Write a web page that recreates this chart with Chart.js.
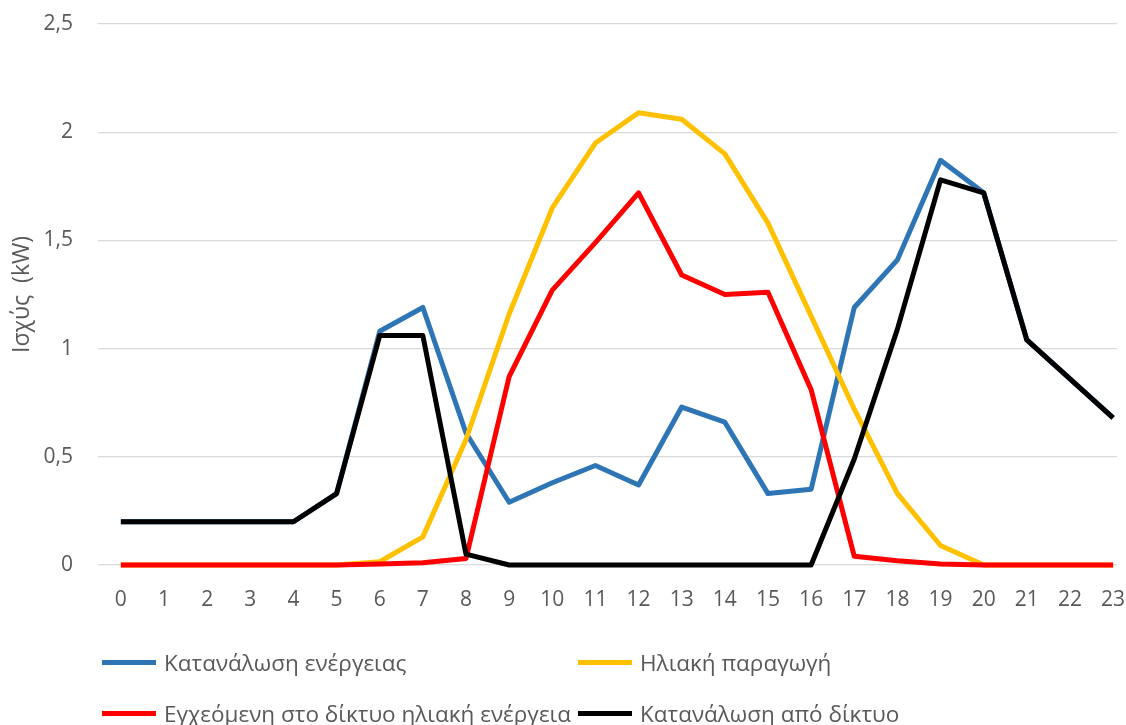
<!DOCTYPE html>
<html>
<head>
<meta charset="utf-8">
<script src="https://cdn.jsdelivr.net/npm/chart.js@4.4.1/dist/chart.umd.min.js"></script>
<style>
  html, body { margin: 0; padding: 0; background: #ffffff; }
  #wrap { position: relative; width: 1126px; height: 725px; }
  #legend { position: absolute; left: 0; top: 0; width: 1126px; height: 725px; pointer-events: none;
            font-family: "Open Sans", "Noto Sans", sans-serif; font-size: 22.5px; color: #595959; }
  .li { position: absolute; display: flex; align-items: center; white-space: nowrap; }
  .sw { width: 54px; height: 5px; margin-right: 8px; }
</style>
</head>
<body>
<div id="wrap">
  <canvas id="c" width="1126" height="725"></canvas>
  <div id="legend"></div>
</div>
<script>
const hours = [0,1,2,3,4,5,6,7,8,9,10,11,12,13,14,15,16,17,18,19,20,21,22,23];
const yTicks = [0, 0.5, 1, 1.5, 2, 2.5];

const seriesNames = [
  "Κατανάλωση ενέργειας",
  "Ηλιακή παραγωγή",
  "Εγχεόμενη στο δίκτυο ηλιακή ενέργεια",
  "Κατανάλωση από δίκτυο"
];
const consumption = [0.20,0.20,0.20,0.20,0.20,0.33,1.08,1.19,0.61,0.29,0.38,0.46,0.37,0.73,0.66,0.33,0.35,1.19,1.41,1.87,1.72,1.04,0.86,0.68];
const solar       = [0,0,0,0,0,0,0.015,0.13,0.58,1.16,1.65,1.95,2.09,2.06,1.90,1.58,1.15,0.72,0.33,0.09,0,0,0,0];
const injected    = [0,0,0,0,0,0,0.005,0.01,0.03,0.87,1.27,1.49,1.72,1.34,1.25,1.26,0.81,0.04,0.02,0.005,0,0,0,0];
const fromGrid    = [0.20,0.20,0.20,0.20,0.20,0.33,1.06,1.06,0.05,0,0,0,0,0,0,0,0,0.49,1.09,1.78,1.72,1.04,0.86,0.68];

const colors = ["#2E75B6", "#FFC000", "#FF0000", "#000000"];
const values = [consumption, solar, injected, fromGrid];
const drawOrder = [4, 3, 2, 1];

const textColor = "#595959";
const fontFamily = '"Open Sans", "Noto Sans", sans-serif';

const datasets = values.map((vals, i) => ({
  label: seriesNames[i],
  data: hours.map((h, k) => ({ x: h, y: vals[k] })),
  borderColor: colors[i],
  backgroundColor: colors[i],
  borderWidth: 5,
  pointRadius: 0,
  pointHoverRadius: 0,
  tension: 0,
  borderJoinStyle: "round",
  borderCapStyle: "butt",
  fill: false,
  clip: false,
  order: drawOrder[i]
}));

new Chart(document.getElementById("c"), {
  type: "line",
  data: { datasets },
  options: {
    responsive: false,
    animation: false,
    layout: { padding: { top: 24, right: 9, bottom: 114, left: 0 } },
    plugins: { legend: { display: false }, tooltip: { enabled: false } },
    scales: {
      x: {
        type: "linear",
        min: -0.53,
        max: 23.09,
        afterBuildTicks: (s) => { s.ticks = hours.map(h => ({ value: h })); },
        afterFit: (s) => { s.height = 46; s.paddingLeft = 0; s.paddingRight = 0; },
        grid: { display: false, drawTicks: false },
        border: { display: false },
        ticks: {
          autoSkip: false,
          maxRotation: 0,
          padding: 22,
          color: textColor,
          font: { family: fontFamily, size: 21 },
          callback: (v) => String(v)
        }
      },
      y: {
        min: 0,
        max: 2.5,
        afterBuildTicks: (s) => { s.ticks = yTicks.map(v => ({ value: v })); },
        afterFit: (s) => { s.width = 98; s.paddingTop = 0; s.paddingBottom = 0; },
        grid: { color: "#D9D9D9", lineWidth: 1.3, drawTicks: false },
        border: { display: false },
        ticks: {
          padding: 25,
          color: textColor,
          font: { family: fontFamily, size: 21 },
          callback: (v) => String(v).replace(".", ",")
        },
        title: {
          display: true,
          text: "Ισχύς  (kW)",
          color: textColor,
          font: { family: fontFamily, size: 23 },
          padding: { top: 9, bottom: 0 }
        }
      }
    }
  }
});

// legend (2 x 2 grid, like the reference)
const legendPos = [
  { x: 102, y: 662 }, { x: 578, y: 662 },
  { x: 102, y: 713 }, { x: 578, y: 713 }
];
const lg = document.getElementById("legend");
seriesNames.forEach((name, i) => {
  const d = document.createElement("div");
  d.className = "li";
  d.style.left = legendPos[i].x + "px";
  d.style.top = (legendPos[i].y - 15) + "px";
  d.style.height = "30px";
  const sw = document.createElement("span");
  sw.className = "sw";
  sw.style.background = colors[i];
  const t = document.createElement("span");
  t.textContent = name;
  d.appendChild(sw);
  d.appendChild(t);
  lg.appendChild(d);
});
</script>
</body>
</html>
